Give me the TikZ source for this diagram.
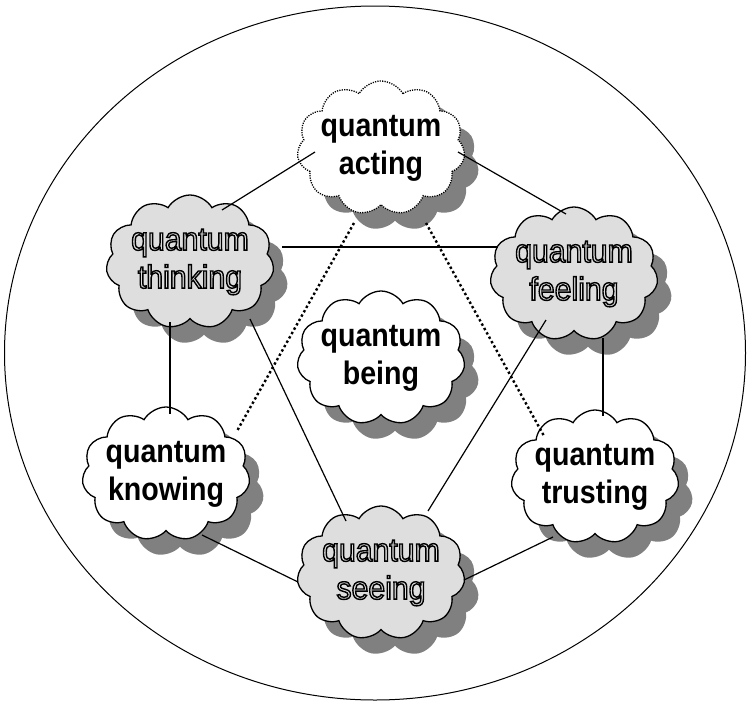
\documentclass[tikz,border=0pt]{standalone}
\usepackage{fontspec}
\setmainfont{Liberation Sans}
\newfontfamily\cloudreg[FakeStretch=0.93]{Liberation Sans}
\newfontfamily\cloudbold[FakeStretch=0.88]{Liberation Sans Bold}
\usetikzlibrary{shapes.symbols,shapes.geometric,shadows,calc}
\newcommand\olt[1]{{\color{black!13}\special{pdf:literal direct 0 G 1.4 w 2 Tr}#1\special{pdf:literal direct 0 Tr}}}
\tikzset{
  cloudbase/.style={cloud, cloud puffs=11, cloud puff arc=120, cloud ignores aspect,
    minimum width=168pt, minimum height=134pt, inner xsep=-30pt, inner ysep=-12pt,
    line width=1.3pt, draw=black, align=center, font=\cloudreg\fontsize{32.5}{38}\selectfont,
    drop shadow={shadow xshift=14pt, shadow yshift=-16pt, fill=black!50, opacity=1}},
  whitecloud/.style={cloudbase, fill=white, font=\cloudbold\fontsize{32.5}{38}\selectfont},
  graycloud/.style={cloudbase, fill=black!13},
  dottedcloud/.style={whitecloud, dash pattern=on 1.2pt off 1.2pt},
  link/.style={line width=1.2pt},
  dotlink/.style={line width=2.4pt, dash pattern=on 2.4pt off 2.6pt}
}
\begin{document}
\begin{tikzpicture}[x=1pt,y=-1pt]
\useasboundingbox (0,0) rectangle (747,702);
\node[draw, line width=1pt, ellipse, minimum width=741pt, minimum height=694pt, inner sep=0pt] (outer) at (375,353) {};
\node[dottedcloud] (acting) at (381,148) {quantum\\acting};
\node[graycloud] (thinking) at (190,262) {\olt{quantum}\\\olt{thinking}};
\node[graycloud] (feeling) at (574,274) {\olt{quantum}\\\olt{feeling}};
\node[whitecloud] (being) at (381,358) {quantum\\being};
\node[whitecloud] (knowing) at (166,474) {quantum\\knowing};
\node[whitecloud] (trusting) at (595,477) {quantum\\trusting};
\node[graycloud] (seeing) at (381,573) {\olt{quantum}\\\olt{seeing}};
\draw[link] ($(acting)+(-66,4)$) -- ($(thinking)+(32,-52)$);
\draw[link] ($(acting)+(77,4)$) -- ($(feeling)+(-8,-60)$);
\draw[link] ($(thinking)+(92,-15)$) -- ($(feeling)+(-76,-27)$);
\draw[link] ($(thinking)+(-20,60)$) -- ($(knowing)+(4,-60)$);
\draw[link] ($(feeling)+(29,64)$) -- ($(trusting)+(8,-61)$);
\draw[link] ($(thinking)+(60,57)$) -- ($(seeing)+(-35,-52)$);
\draw[link] ($(feeling)+(-28,46)$) -- ($(seeing)+(47,-62)$);
\draw[link] ($(knowing)+(36,61)$) -- ($(seeing)+(-83,9)$);
\draw[link] ($(trusting)+(-42,60)$) -- ($(seeing)+(83,7)$);
\draw[dotlink] ($(acting)+(-27,75)$) -- ($(knowing)+(71,-43)$);
\draw[dotlink] ($(acting)+(45,75)$) -- ($(trusting)+(-51,-41)$);
\end{tikzpicture}
\end{document}
